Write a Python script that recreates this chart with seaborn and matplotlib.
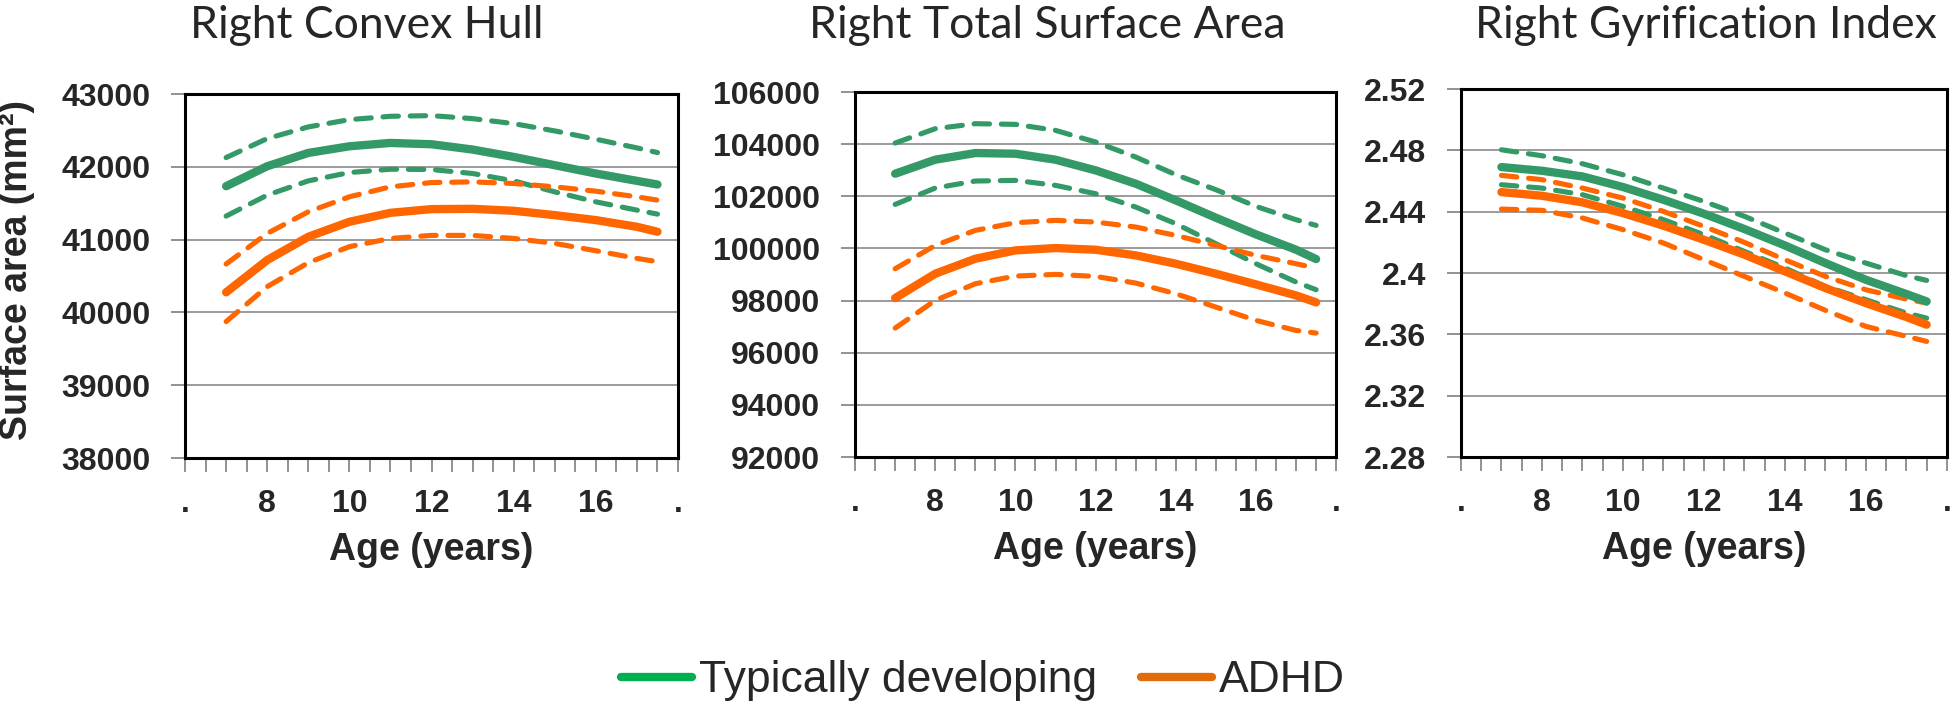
import numpy as np
import pandas as pd
import seaborn as sns
import matplotlib.pyplot as plt
from matplotlib.lines import Line2D

# ages (years) at which the fitted curves were read
ages = [7, 8, 9, 10, 11, 12, 13, 14, 15, 16, 17, 17.5]

# Right Convex Hull (mm2)
hull_td = [41734, 42008, 42191, 42282, 42328, 42310, 42237, 42136, 42022, 41908, 41807, 41757]
hull_td_hi = [42127, 42388, 42548, 42648, 42694, 42703, 42662, 42593, 42493, 42379, 42260, 42196]
hull_td_lo = [41323, 41611, 41807, 41921, 41967, 41963, 41908, 41807, 41656, 41519, 41405, 41350]
hull_adhd = [40276, 40719, 41039, 41245, 41368, 41419, 41423, 41396, 41336, 41268, 41176, 41108]
hull_adhd_hi = [40665, 41085, 41382, 41588, 41725, 41784, 41793, 41771, 41725, 41665, 41588, 41542]
hull_adhd_lo = [39874, 40354, 40683, 40903, 41016, 41058, 41058, 41016, 40948, 40847, 40742, 40697]

# Right Total Surface Area (mm2)
tsa_td = [102867, 103404, 103660, 103634, 103404, 102995, 102484, 101844, 101179, 100540, 99951, 99593]
tsa_td_hi = [104043, 104593, 104785, 104760, 104529, 104082, 103506, 102829, 102253, 101614, 101102, 100885]
tsa_td_lo = [101690, 102317, 102586, 102611, 102420, 102100, 101588, 100949, 100182, 99414, 98711, 98417]
tsa_adhd = [98097, 99031, 99606, 99926, 100015, 99951, 99734, 99414, 99031, 98621, 98199, 97931]
tsa_adhd_hi = [99222, 100117, 100693, 100987, 101077, 101013, 100821, 100501, 100117, 99734, 99414, 99248]
tsa_adhd_lo = [96946, 98008, 98647, 98941, 99005, 98928, 98673, 98263, 97752, 97240, 96856, 96754]

# Right Gyrification Index
gi_td = [2.4691, 2.4667, 2.4630, 2.4561, 2.4478, 2.4387, 2.4287, 2.4180, 2.4065, 2.3956, 2.3863, 2.3815]
gi_td_hi = [2.4804, 2.4765, 2.4713, 2.4641, 2.4554, 2.4467, 2.4370, 2.4261, 2.4152, 2.4065, 2.3983, 2.3952]
gi_td_lo = [2.4576, 2.4554, 2.4511, 2.4435, 2.4348, 2.4250, 2.4141, 2.4033, 2.3913, 2.3826, 2.3739, 2.3706]
gi_adhd = [2.4528, 2.4504, 2.4461, 2.4391, 2.4309, 2.4217, 2.4120, 2.4011, 2.3902, 2.3804, 2.3713, 2.3663]
gi_adhd_hi = [2.4637, 2.4609, 2.4554, 2.4489, 2.4402, 2.4304, 2.4200, 2.4087, 2.3978, 2.3891, 2.3830, 2.3804]
gi_adhd_lo = [2.4417, 2.4409, 2.4359, 2.4283, 2.4196, 2.4087, 2.3978, 2.3870, 2.3757, 2.3652, 2.3587, 2.3554]

titles = ["Right Convex Hull", "Right Total Surface Area", "Right Gyrification Index"]
x_labels = [".", "8", "10", "12", "14", "16", "."]
hull_ticks = [38000, 39000, 40000, 41000, 42000, 43000]
tsa_ticks = [92000, 94000, 96000, 98000, 100000, 102000, 104000, 106000]
gi_ticks = [2.28, 2.32, 2.36, 2.40, 2.44, 2.48, 2.52]
gi_tick_labels = ["2.28", "2.32", "2.36", "2.4", "2.44", "2.48", "2.52"]

GREEN = "#339966"
ORANGE = "#FF6600"

sns.set_style("white")
plt.rcParams["font.family"] = ["Liberation Sans", "DejaVu Sans"]

fig = plt.figure(figsize=(19.5, 7.09), dpi=100)
axes = [
    fig.add_axes([0.0949, 0.354, 0.2528, 0.5134]),
    fig.add_axes([0.4385, 0.3554, 0.2467, 0.5148]),
    fig.add_axes([0.7492, 0.3554, 0.2492, 0.519]),
]

panels = [
    (hull_td, hull_td_hi, hull_td_lo, hull_adhd, hull_adhd_hi, hull_adhd_lo, hull_ticks, [str(t) for t in hull_ticks]),
    (tsa_td, tsa_td_hi, tsa_td_lo, tsa_adhd, tsa_adhd_hi, tsa_adhd_lo, tsa_ticks, [str(t) for t in tsa_ticks]),
    (gi_td, gi_td_hi, gi_td_lo, gi_adhd, gi_adhd_hi, gi_adhd_lo, gi_ticks, gi_tick_labels),
]

dash = (0, (3.0, 2.3))
for ax, (td, td_hi, td_lo, ad, ad_hi, ad_lo, yt, ytl) in zip(axes, panels):
    for vals in (td_hi, td_lo):
        sns.lineplot(x=ages, y=vals, ax=ax, color=GREEN, lw=3.7, linestyle=dash,
                     dash_capstyle="round", dash_joinstyle="round", errorbar=None)
    for vals in (ad_hi, ad_lo):
        sns.lineplot(x=ages, y=vals, ax=ax, color=ORANGE, lw=3.7, linestyle=dash,
                     dash_capstyle="round", dash_joinstyle="round", errorbar=None)
    sns.lineplot(x=ages, y=ad, ax=ax, color=ORANGE, lw=6, solid_capstyle="round",
                 solid_joinstyle="round", errorbar=None)
    sns.lineplot(x=ages, y=td, ax=ax, color=GREEN, lw=6, solid_capstyle="round",
                 solid_joinstyle="round", errorbar=None)

    ax.set_xlim(6, 18)
    ax.set_ylim(yt[0], yt[-1])
    ax.set_xticks(range(6, 19, 2))
    ax.set_xticklabels(x_labels, fontsize=23, fontweight="bold")
    ax.set_xticks(np.arange(6, 18.5, 0.5), minor=True)
    ax.set_yticks(yt)
    ax.set_yticklabels(ytl, fontsize=23, fontweight="bold")
    ax.tick_params(axis="x", which="both", direction="out", length=10, width=1.2,
                   color="#7f7f7f", pad=12, bottom=True)
    ax.tick_params(axis="y", which="major", direction="out", length=10, width=1.2,
                   color="#7f7f7f", pad=15, left=True)
    ax.yaxis.grid(True, color="#8a8a8a", lw=1.2)
    ax.xaxis.grid(False)
    for sp in ax.spines.values():
        sp.set_visible(True)
        sp.set_color("black")
        sp.set_linewidth(2.2)
    ax.set_xlabel("Age (years)", fontsize=27, fontweight="bold", labelpad=10)
    ax.set_ylabel("")

axes[0].set_ylabel("Surface area (mm²)", fontsize=27, fontweight="bold")
axes[0].yaxis.set_label_coords(-0.305, 0.516)

# titles sit a little left of centre in the original
for x, t in zip([0.188, 0.537, 0.875], titles):
    fig.text(x, 0.947, t, ha="center", va="baseline", fontsize=32, family="Lato")

handles = [Line2D([], [], color="#00B050", lw=6), Line2D([], [], color="#E36C0A", lw=6)]
fig.legend(handles, ["Typically developing", "ADHD"], loc="center",
           bbox_to_anchor=(0.504, 0.04), ncol=2, frameon=False, fontsize=32,
           handlelength=1.6, handletextpad=0.15, columnspacing=1.0)

plt.savefig("out.png", dpi=100)
